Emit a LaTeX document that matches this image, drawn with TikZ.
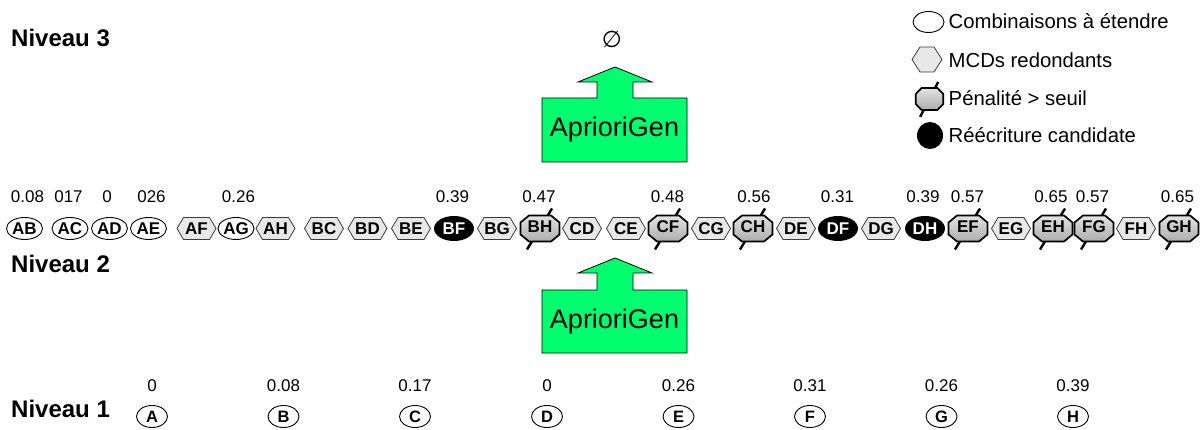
\documentclass[tikz,border=0pt]{standalone}
\usepackage{fontspec}
\setmainfont{Liberation Sans}
\newfontfamily\djv{DejaVu Sans}
\usetikzlibrary{shapes.geometric}
\definecolor{apgreen}{RGB}{0,255,110}
\definecolor{hexfill}{RGB}{232,232,232}
\definecolor{hexdraw}{RGB}{60,60,60}
\tikzset{
  lvl/.style={anchor=west,inner sep=0pt,font=\fontsize{24}{24}\selectfont\bfseries},
  val/.style={inner sep=0pt,font=\fontsize{17}{17}\selectfont},
  legtxt/.style={anchor=west,inner sep=0pt,font=\fontsize{20.3}{20.3}\selectfont},
  nodefont/.style={font=\fontsize{17}{17}\selectfont\bfseries},
  combo/.style={ellipse,draw=black,fill=white,line width=0.9pt,minimum width=36pt,minimum height=22pt,inner sep=0pt,nodefont},
  hexbody/.style={draw=hexdraw,fill=hexfill,line width=0.8pt},
  hextext/.style={inner sep=0pt,nodefont},
  cand/.style={ellipse,fill=black,text=white,minimum width=40pt,minimum height=25pt,inner sep=0pt,nodefont},
  single/.style={ellipse,draw=black,fill=white,line width=0.9pt,minimum width=31pt,minimum height=22pt,inner sep=0pt,font=\fontsize{16.5}{16.5}\selectfont\bfseries},
  pentext/.style={inner sep=0pt,nodefont},
  penslash/.style={line width=2.4pt},
  penbody/.style={draw=black,line width=1.7pt,top color=gray!22,middle color=white,bottom color=gray!65},
  apbox/.style={draw=black,line width=0.8pt,fill=apgreen},
  aptext/.style={inner sep=0pt,font=\fontsize{27}{27}\selectfont},
}
\newcommand\pennode[4]{%
  \begin{scope}[shift={(#2,#3)}]
    \draw[penslash] (12,-20) -- (-13,21);
    \path[penbody] (-11,-13) -- (11,-13) -- (19.5,-6) -- (19.5,6) -- (11,13) -- (-11,13) -- (-19.5,6) -- (-19.5,-6) -- cycle;
    \node[pentext] (#1) at (0,-2) {#4};
  \end{scope}}
\newcommand\hexnode[4]{%
  \begin{scope}[shift={(#2,#3)}]
    \path[hexbody] (-19.5,0) -- (-13,-11) -- (13,-11) -- (19.5,0) -- (13,11) -- (-13,11) -- cycle;
    \node[hextext] (#1) at (0,0) {#4};
  \end{scope}}
\begin{document}
\begin{tikzpicture}[x=1pt,y=-1pt]
\useasboundingbox[fill=white] (0,0) rectangle (1204,430);

% level labels
\node[lvl] (niv3) at (11,38) {Niveau 3};
\node[lvl] (niv2) at (11,264) {Niveau 2};
\node[lvl] (niv1) at (11,409) {Niveau 1};

% legend
\node[ellipse,draw=black,fill=white,line width=0.9pt,minimum width=31pt,minimum height=21pt,inner sep=0pt] (lg1) at (928.5,22) {};
\node[legtxt] (lt1) at (948.5,21) {Combinaisons à étendre};
\begin{scope}[shift={(927,59.5)}]
  \path[hexbody] (-15,0) -- (-7,-12.5) -- (7,-12.5) -- (15,0) -- (7,12.5) -- (-7,12.5) -- cycle;
  \node[inner sep=0pt] (lg2) at (0,0) {};
\end{scope}
\node[legtxt] (lt2) at (948.5,60) {MCDs redondants};
\begin{scope}[shift={(929.5,99)},xscale=0.72,yscale=0.85]
  \draw[penslash] (12,-20) -- (-13,21);
  \path[penbody] (-11,-13) -- (11,-13) -- (19,-6) -- (19,6) -- (11,13) -- (-11,13) -- (-19,6) -- (-19,-6) -- cycle;
  \node[inner sep=0pt] (lg3) at (0,0) {};
\end{scope}
\node[legtxt] (lt3) at (948.5,98) {Pénalité > seuil};
\node[ellipse,fill=black,minimum width=26pt,minimum height=27pt,inner sep=0pt] (lg4) at (930,135.5) {};
\node[legtxt] (lt4) at (948.5,135) {Réécriture candidate};

% empty set
\node[inner sep=0pt,font=\djv\fontsize{23}{23}\selectfont] (empty) at (612,39) {∅};

% AprioriGen (top)
\path[apbox] (542,162) -- (542,98) -- (597,98) -- (597,82) -- (578,82) -- (615,67) -- (652,82) -- (633,82) -- (633,98) -- (687,98) -- (687,162) -- cycle;
\node[aptext] (ap3) at (614.5,130) {AprioriGen};
% AprioriGen (bottom)
\path[apbox] (542,353) -- (542,290) -- (597,290) -- (597,273) -- (578,273) -- (615,258) -- (652,273) -- (633,273) -- (633,290) -- (687,290) -- (687,353) -- cycle;
\node[aptext] (ap2) at (614.5,321.5) {AprioriGen};

% level 2 row
\def\ry{228.5}
\node[combo] (AB) at (24.5,\ry) {AB};
\node[combo] (AC) at (70,\ry) {AC};
\node[combo] (AD) at (109.5,\ry) {AD};
\node[combo] (AE) at (148.5,\ry) {AE};
\hexnode{AF}{196.5}{\ry}{AF}
\node[combo] (AG) at (236,\ry) {AG};
\hexnode{AH}{275.5}{\ry}{AH}
\hexnode{BC}{324}{\ry}{BC}
\hexnode{BD}{367.5}{\ry}{BD}
\hexnode{BE}{411}{\ry}{BE}
\node[cand] (BF) at (454,\ry) {BF};
\hexnode{BG}{497}{\ry}{BG}
\pennode{BH}{540}{\ry}{BH}
\hexnode{CD}{582}{\ry}{CD}
\hexnode{CE}{626}{\ry}{CE}
\pennode{CF}{668}{\ry}{CF}
\hexnode{CG}{711}{\ry}{CG}
\pennode{CH}{753}{\ry}{CH}
\hexnode{DE}{796}{\ry}{DE}
\node[cand] (DF) at (838,\ry) {DF};
\hexnode{DG}{881}{\ry}{DG}
\node[cand] (DH) at (925,\ry) {DH};
\pennode{EF}{968}{\ry}{EF}
\hexnode{EG}{1011}{\ry}{EG}
\pennode{EH}{1053}{\ry}{EH}
\pennode{FG}{1094}{\ry}{FG}
\hexnode{FH}{1136}{\ry}{FH}
\pennode{GH}{1179}{\ry}{GH}

% level 2 values
\def\vy{197}
\node[val] (vAB) at (27.5,\vy) {0.08};
\node[val] (vAC) at (68.5,\vy) {017};
\node[val] (vAD) at (107,\vy) {0};
\node[val] (vAE) at (151.5,\vy) {026};
\node[val] (vAG) at (238.5,\vy) {0.26};
\node[val] (vBF) at (452.5,\vy) {0.39};
\node[val] (vBH) at (539,\vy) {0.47};
\node[val] (vCF) at (667.5,\vy) {0.48};
\node[val] (vCH) at (754,\vy) {0.56};
\node[val] (vDF) at (837.5,\vy) {0.31};
\node[val] (vDH) at (923,\vy) {0.39};
\node[val] (vEF) at (967.5,\vy) {0.57};
\node[val] (vEH) at (1051,\vy) {0.65};
\node[val] (vFG) at (1092.5,\vy) {0.57};
\node[val] (vGH) at (1177.5,\vy) {0.65};

% level 1
\def\ly{416.5}
\def\lv{386}
\node[single] (A) at (152,\ly) {A};
\node[single] (B) at (283.5,\ly) {B};
\node[single] (C) at (415,\ly) {C};
\node[single] (D) at (547,\ly) {D};
\node[single] (E) at (678.5,\ly) {E};
\node[single] (F) at (810,\ly) {F};
\node[single] (G) at (941.5,\ly) {G};
\node[single] (H) at (1073,\ly) {H};
\node[val] (vA) at (152,\lv) {0};
\node[val] (vB) at (283.5,\lv) {0.08};
\node[val] (vC) at (415,\lv) {0.17};
\node[val] (vD) at (547,\lv) {0};
\node[val] (vE) at (678.5,\lv) {0.26};
\node[val] (vF) at (810,\lv) {0.31};
\node[val] (vG) at (941.5,\lv) {0.26};
\node[val] (vH) at (1073,\lv) {0.39};
\end{tikzpicture}
\end{document}
